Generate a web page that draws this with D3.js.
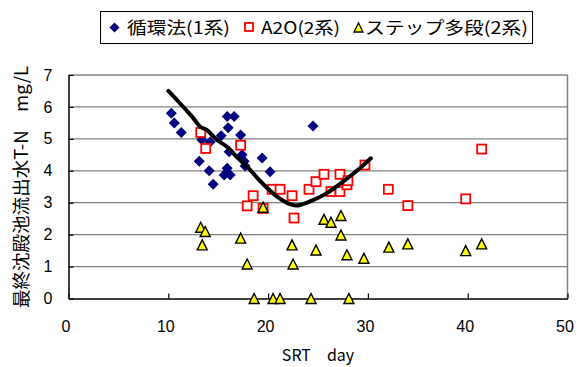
<!DOCTYPE html>
<html><head><meta charset="utf-8">
<script src="https://cdn.jsdelivr.net/npm/d3@7"></script>
<style>body{margin:0;background:#fff}svg{display:block}text{font-family:"Noto Sans CJK JP","Liberation Sans",sans-serif}</style>
</head><body><svg id="c" width="580" height="367"></svg>
<script>
// Series 1: 循環法(1系)
const s1X = [10.3,10.6,11.3,13.1,13.35,14.1,14.2,14.5,15.3,15.6,15.9,16.0,15.9,16.1,16.2,16.6,17.25,17.4,17.6,17.7,19.4,20.2,24.5];
const s1Y = [5.8,5.5,5.2,4.3,4.97,4.0,4.9,3.58,5.1,3.87,5.7,5.35,4.08,4.6,3.87,5.7,5.12,4.5,4.3,4.15,4.4,3.97,5.4];
// Series 2: A2O(2系)
const s2X = [13.25,13.75,17.25,17.9,18.5,19.5,20.4,21.2,22.4,22.6,24.1,24.8,25.6,26.3,27.2,27.2,27.9,28.0,29.7,32.05,34.0,39.8,41.4];
const s2Y = [5.2,4.7,4.8,2.9,3.22,2.82,3.42,3.42,3.22,2.52,3.42,3.66,3.89,3.35,3.35,3.89,3.56,3.69,4.18,3.42,2.91,3.12,4.68];
// Series 3: ステップ多段(2系)
const s3X = [13.25,13.7,13.4,17.25,17.9,19.5,22.4,22.5,25.6,26.3,27.3,27.3,24.8,27.9,29.6,32.1,34.0,39.8,41.4,18.6,20.5,21.2,24.3,28.1];
const s3Y = [2.23,2.1,1.68,1.89,1.08,2.86,1.68,1.08,2.48,2.39,2.6,1.99,1.52,1.37,1.26,1.61,1.71,1.5,1.71,0,0,0,0,0];
// Fitted curve
const curveX = [10,11,12,12.5,13.2,13.85,14.85,15.85,16.85,18.2,19.2,20.9,22.0,22.8,24.2,25.9,27.5,29.2,30.3];
const curveY = [6.5,6.17,5.83,5.65,5.38,5.28,4.97,4.76,4.44,4.03,3.68,3.19,2.98,2.91,3.04,3.3,3.66,4.08,4.39];
// Axes
const xTicks = [0,10,20,30,40,50];
const yTicks = [0,1,2,3,4,5,6,7];
const legendLabels = ["循環法(1系)","A2O(2系)","ステップ多段(2系)"];
const yTitle = "最終沈殿池流出水T-N　mg/L";
const xTitle = "SRT　day";

const svg = d3.select("#c");
const x = d3.scaleLinear().domain([0,50]).range([68.5,567.5]);
const y = d3.scaleLinear().domain([0,7]).range([298.5,75]);

// gridlines
svg.append("g").selectAll("line").data(yTicks.filter(d=>d>0)).join("line")
  .attr("x1",x(0)).attr("x2",x(50)).attr("y1",d=>y(d)).attr("y2",d=>y(d))
  .attr("stroke","#808080").attr("stroke-width",1.3);
svg.append("line").attr("x1",x(50)).attr("x2",x(50)).attr("y1",y(7)).attr("y2",y(0))
  .attr("stroke","#808080").attr("stroke-width",1.5);

// axes
const fs = "16px";
const yAxis = svg.append("g").attr("transform",`translate(${x(0)},0)`)
  .call(d3.axisLeft(y).tickValues(yTicks).tickFormat(d3.format("d")).tickSizeInner(-5).tickSizeOuter(0).tickPadding(16));
const xAxis = svg.append("g").attr("transform",`translate(0,${y(0)})`)
  .call(d3.axisBottom(x).tickValues(xTicks).tickFormat(d3.format("d")).tickSizeInner(-5).tickSizeOuter(0).tickPadding(22));
[yAxis,xAxis].forEach(a=>{
  a.selectAll("path").attr("stroke","#000").attr("stroke-width",1.5);
  a.selectAll("line").attr("stroke","#000").attr("stroke-width",1.2);
  a.selectAll("text").attr("font-size",fs).attr("fill","#000")
   .style("font-family","'Liberation Sans',Arial,sans-serif");
});
xAxis.selectAll("text").attr("dx",-3);

// marker shapes
function diamond(cx,cy,r){return `M${cx},${cy-r}L${cx+r},${cy}L${cx},${cy+r}L${cx-r},${cy}Z`;}
function tri(cx,cy,w,h){return `M${cx},${cy-h/2}L${cx+w/2},${cy+h/2}L${cx-w/2},${cy+h/2}Z`;}

const d1 = s1X.map((v,i)=>[v,s1Y[i]]);
const d2 = s2X.map((v,i)=>[v,s2Y[i]]);
const d3d = s3X.map((v,i)=>[v,s3Y[i]]);

svg.append("g").selectAll("path").data(d1).join("path")
  .attr("d",d=>diamond(x(d[0]),y(d[1]),5.5)).attr("fill","#000080");
svg.append("g").selectAll("rect").data(d2).join("rect")
  .attr("x",d=>x(d[0])-4.5).attr("y",d=>y(d[1])-4.5).attr("width",9).attr("height",9)
  .attr("fill","#fff").attr("stroke","#ff0000").attr("stroke-width",1.8);
svg.append("g").selectAll("path").data(d3d).join("path")
  .attr("d",d=>tri(x(d[0]),y(d[1]),10,10)).attr("fill","#ffff00").attr("stroke","#000").attr("stroke-width",1.4);

const line = d3.line().x(d=>x(d[0])).y(d=>y(d[1])).curve(d3.curveCatmullRom);
svg.append("path").datum(curveX.map((v,i)=>[v,curveY[i]]))
  .attr("d",line).attr("fill","none").attr("stroke","#000").attr("stroke-width",4)
  .attr("stroke-linejoin","round").attr("stroke-linecap","round");

// titles
svg.append("text").attr("transform",`translate(28,187) rotate(-90)`)
  .attr("text-anchor","middle").attr("font-size","18px")
  .attr("textLength",242).attr("lengthAdjust","spacingAndGlyphs").text(yTitle);
svg.append("text").attr("x",(x(0)+x(50))/2).attr("y",361).attr("text-anchor","middle")
  .attr("font-size","16px").text(xTitle);

// legend
const lg = svg.append("g");
lg.append("rect").attr("x",100.5).attr("y",11.5).attr("width",432).attr("height",32)
  .attr("fill","#fff").attr("stroke","#000").attr("stroke-width",1);
const ly = 27.5;
lg.append("path").attr("d",diamond(114.5,ly,5)).attr("fill","#000080");
lg.append("rect").attr("x",245).attr("y",ly-4.5).attr("width",8).attr("height",8)
  .attr("fill","#fff").attr("stroke","#ff0000").attr("stroke-width",1.8);
lg.append("path").attr("d",tri(358.5,ly,9,9)).attr("fill","#ffff00").attr("stroke","#000").attr("stroke-width",1.3);
const lx = [[127,230],[261,340],[365,528]];
legendLabels.forEach((t,i)=>{
  lg.append("text").attr("x",lx[i][0]).attr("y",ly+6).attr("font-size","17px")
    .attr("textLength",lx[i][1]-lx[i][0]).attr("lengthAdjust","spacingAndGlyphs").text(t);
});
</script></body></html>
